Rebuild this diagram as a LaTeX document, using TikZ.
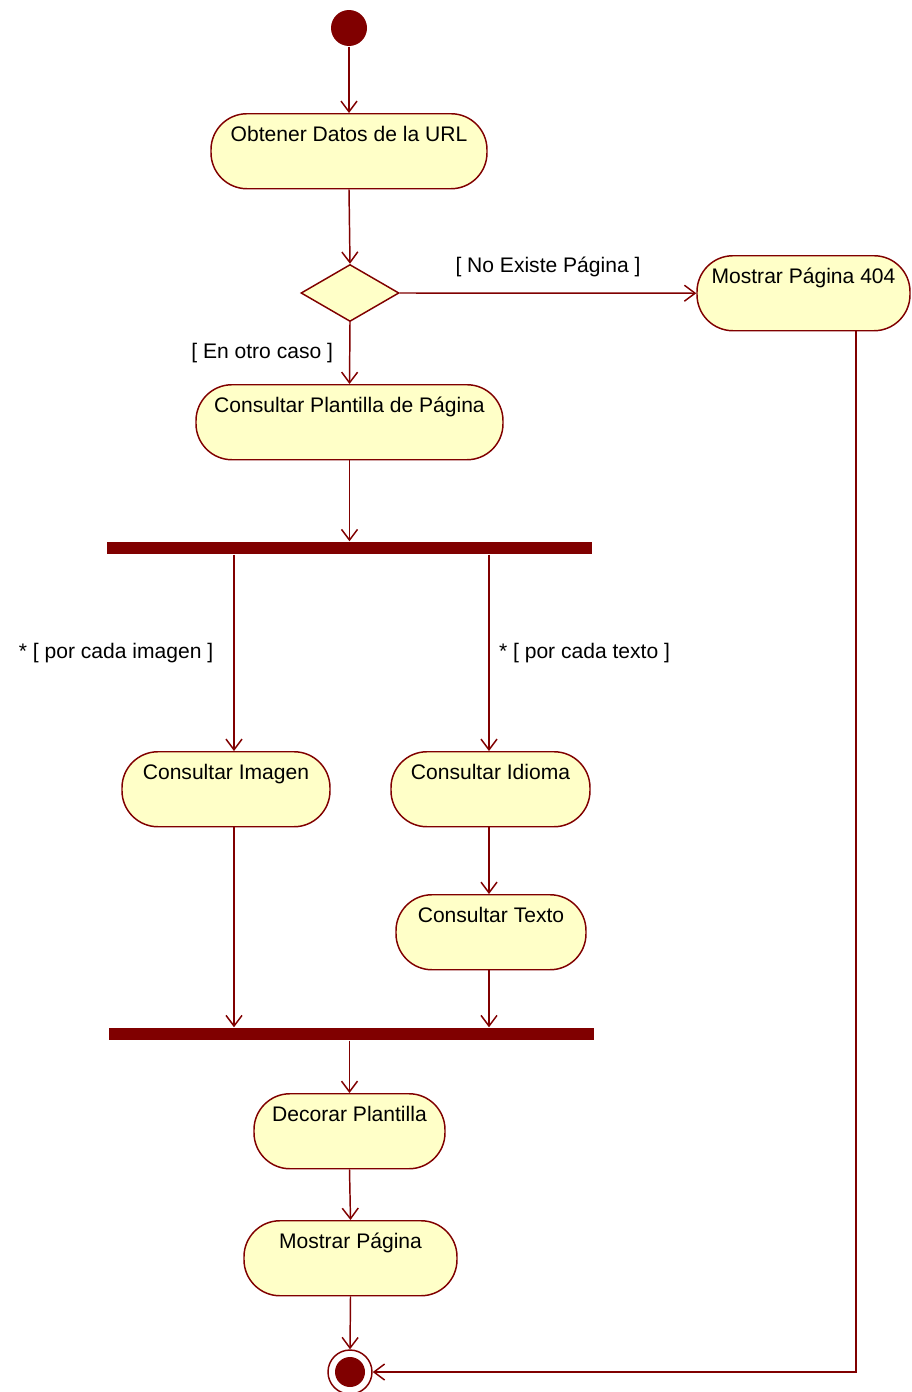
\documentclass[tikz,border=0pt]{standalone}
\usepackage{fontspec}
\setmainfont{Liberation Sans}
\usetikzlibrary{shapes.geometric,arrows.meta}
\definecolor{linecol}{RGB}{128,0,0}
\definecolor{fillcol}{RGB}{255,255,200}
\begin{document}
\begin{tikzpicture}[x=0.75pt,y=-0.75pt,
  font=\fontsize{15.8}{19}\selectfont,
  line width=1.1pt,
  act/.style={draw=linecol,fill=fillcol,rectangle,rounded corners=27pt,
    inner sep=0pt,text height=21pt,text depth=35.25pt,anchor=north},
  bar/.style={fill=linecol,draw=none,rectangle,inner sep=0pt,minimum height=9pt},
  flow/.style={draw=linecol,-{Straight Barb[length=8pt,width=12pt,line width=1.1pt]}},
  guard/.style={text=black,inner sep=2pt}]
\useasboundingbox (0,0) rectangle (911,1392);

% column positions for the parallel branches
\coordinate (colA) at (234,0);
\coordinate (colB) at (489,0);
\coordinate (colC) at (856,0);

% start and end
\node[circle,fill=linecol,inner sep=0pt,minimum size=27pt] (ini) at (349,28) {};
\node[circle,draw=linecol,fill=white,inner sep=0pt,minimum size=33pt,
  path picture={\fill[linecol] (path picture bounding box.center) circle (11.25pt);}]
  (fin) at (350,1372) {};

% activities
\node[act,minimum width=207pt] (obt) at (349,113) {Obtener Datos de la URL};
\node[draw=linecol,fill=fillcol,diamond,inner sep=0pt,minimum width=73.5pt,
  minimum height=42.75pt] (dec1) at (350,293) {};
\node[act,minimum width=159.75pt] (m404) at (803.5,255) {Mostrar Página 404};
\node[act,minimum width=230.25pt] (cpl) at (349.5,384) {Consultar Plantilla de Página};
\node[bar,minimum width=363.75pt] (fork) at (349.5,548) {};
\node[act,minimum width=156pt] (cimg) at (226,751) {Consultar Imagen};
\node[act,minimum width=149.25pt] (cidi) at (490.5,751) {Consultar Idioma};
\node[act,minimum width=142.5pt] (ctxt) at (491,894) {Consultar Texto};
\node[bar,minimum width=363.75pt] (join) at (351.5,1034) {};
\node[act,minimum width=143.25pt] (dec) at (349.5,1093) {Decorar Plantilla};
\node[act,minimum width=159.75pt] (mpag) at (350.5,1220) {Mostrar Página};

% control flow
\draw[flow] (ini) -- (obt.north);
\draw[flow] (obt.south) -- (dec1.north);
\draw[flow] (dec1.east) -- node[guard,above=10pt] {[ No Existe Página ]} (m404.west);
\draw[flow] (dec1.south) -- node[guard,left=10pt] {[ En otro caso ]} (cpl.north);
\draw[flow] (cpl.south) -- (fork.north);
\draw[flow] (fork.south -| colA) -- node[guard,left=13pt] {* [ por cada imagen ]} (cimg.north -| colA);
\draw[flow] (fork.south -| colB) -- node[guard,right=5pt] {* [ por cada texto ]} (cidi.north -| colB);
\draw[flow] (cidi.south -| colB) -- (ctxt.north -| colB);
\draw[flow] (cimg.south -| colA) -- (join.north -| colA);
\draw[flow] (ctxt.south -| colB) -- (join.north -| colB);
\draw[flow] (join.south -| dec.north) -- (dec.north);
\draw[flow] (dec.south) -- (mpag.north);
\draw[flow] (mpag.south) -- (fin.north);
\draw[flow] (m404.south -| colC) |- (fin.east);
\end{tikzpicture}
\end{document}
